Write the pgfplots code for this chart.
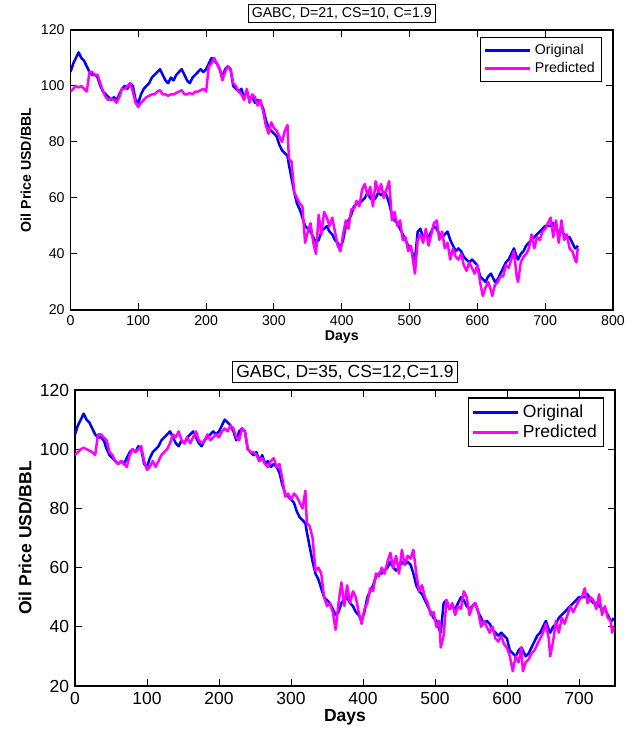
\documentclass[border=0pt]{standalone}
\usepackage{pgfplots}
\usepackage{pgfplotstable}
\pgfplotsset{compat=1.18}
\usepackage{fontspec}
\setmainfont{Liberation Sans}
\definecolor{mblue}{RGB}{0,0,255}
\definecolor{mmag}{RGB}{255,0,255}
\pgfplotstableread{
x o pa pb
0 105 98 98
4 108 99 99
8 110 100 100
12 112 99.5 100.5
16 110 100 100
20 109 99 99.5
24 107 98 99
28 105 105 98
32 104 105 105
36 104 104 105
40 103 104 104
44 100 101 103
48 98 98 99
52 97 96 98
56 96 95 96
60 95 95.5 95
64 96 95 96
68 95 94 95
72 97 96 94
76 99 99 98
80 100 99 100
84 99 100 99
88 101 101 100
92 100 98 101
96 95 94 96
100 94 92.5 93
104 97 94 94
108 99 95 96
112 100 96 94
116 101 96.5 96
120 103 97 98
124 104 97 99
128 105 98 100
132 106 98.5 102
136 104 97 105
140 102 97 104
144 101 96.5 106
148 103 97 103
152 102 97 102
156 104 97.5 104
160 105 98 102
164 106 98.5 104
168 104 97 106
172 102 97 103
176 101 97.5 102
180 103 97 103
184 104 98 105
188 105 98 103
192 106 98.5 104
196 105 99 105
200 106 98 104
204 108 107 106
208 110 108 107
212 109 110 106
216 108 108 108
220 106 106 107
224 103 102 104
228 106 105 103
232 107 107 107
236 106 106 106
240 100 101 100
244 99 100 99
248 98 98 99
252 99 97 98
256 96 95 96
260 98 99 97
264 95 94 95
268 96 97 94
272 94 96 96
276 95 93 97
280 94 95 94
284 92 91 95
288 88 86 90
292 85 83 84
296 84 87 85
300 83 85 83
304 82 84 85
308 79 82 84
312 77 80 82
316 76 84 80
320 75 86 86
322 72 74 75
326 67 73 74
330 62 62 70
334 58 60 59
338 56 58 60
342 53 57 58
346 50 44 50
350 49 48 47
354 48 51 48
358 46 44 45
362 44 40 39
366 45 54 48
370 48 47 55
374 49 55 47
378 50 53 54
382 48 50 48
386 47 53 52
390 45 48 50
394 44 43 45
398 42 41 41
402 45 47 46
406 50 52 48
410 52 49 53
414 54 56 52
418 57 56 58
422 58 59 57
426 58 57 60
430 59 63 58
434 60 65 62
438 62 61 65
442 60 64 60
446 59 57 64
450 60 66 58
454 62 62 66
458 61 65 61
462 62 60 64
466 61 63 63
470 58 66 66
474 54 52 58
478 52 55 52
482 51 50 54
486 49 52 50
490 47 45 48
494 45 46 44
498 43 41 45
502 42 43 40
506 39 36 42
508 38 33 33
512 48 45 37
516 49 47 49
520 46 44 46
524 47 49 48
528 46 43 44
532 48 47 47
536 50 51 46
540 49 52 52
544 47 45 50
548 46 48 44
552 47 42 47
556 48 44 48
560 45 38 45
564 43 42 40
568 41 39 42
572 42 38 40
576 41 40 38
580 39 36 40
584 38 34 36
588 37 37 35
592 38 35 37
596 37 33 34
600 36 36 33
604 32 30 30
608 31 25 25
612 30 28 30
616 32 30 28
620 33 27 33
622 32 25 25
626 30 29 28
630 31 30 29
634 33 32 31
638 35 32 32
642 37 36 34
646 38 35 36
650 40 38 38
654 42 41 41
658 39 32 36
660 38 30 30
664 40 37 35
668 41 39 42
672 43 40 38
676 44 42 43
680 45 47 41
684 46 42 44
688 47 46 47
692 48 45 45
696 49 48 47
700 50 49 49
704 50 51 50
708 50 53 53
712 51 46 48
716 49 52 50
720 48 44 49
724 48 52 46
728 47 45 51
732 46 47 44
736 46 42 47
740 44 41 43
744 42 38 42
746 42 37 38
748 43 42 40
}\oil
\pgfplotsset{
  mstyle/.style={
    scale only axis,
    axis line style={black, line width=0.8pt},
    tick align=inside,
    major tick length=4pt,
    tick style={black, line width=0.6pt},
    ymin=20, ymax=120,
    ytick={20,40,...,120},
    /pgf/number format/assume math mode=true,
    /pgf/number format/set thousands separator={},
    xlabel={\bfseries Days},
    ylabel={\bfseries Oil Price USD/BBL},
    legend cell align=left,
    legend style={draw=black, line width=0.8pt, at={(0.98,0.975)}, anchor=north east, inner sep=2pt, row sep=-1pt},
    legend image code/.code={\draw[#1, line width=1.6pt] (0cm,0cm) -- (0.95cm,0cm);},
    title style={draw=black, line width=0.6pt, fill=white, inner sep=2pt, yshift=-2pt},
  },
}
\begin{document}
\begin{tikzpicture}
\useasboundingbox (0,0) rectangle (381.6pt,-438pt);
\begin{axis}[mstyle,
  at={(42.3pt,-186pt)}, anchor=south west,
  width=325.5pt, height=168pt,
  xmin=0, xmax=800, xtick={0,100,...,800},
  tick label style={font=\fontsize{8.5}{10}\selectfont},
  label style={font=\fontsize{8.5}{10}\selectfont},
  xlabel style={yshift=4pt},
  ylabel style={yshift=-1pt},
  title style={font=\fontsize{8.5}{10}\selectfont},
  title={GABC, D=21, CS=10, C=1.9},
  legend style={font=\fontsize{8.5}{10}\selectfont},
]
\addplot[mblue, line width=1.5pt, line join=round] table[x=x, y=o] {\oil};
\addlegendentry{Original}
\addplot[mmag, line width=1.5pt, line join=round] table[x=x, y=pa] {\oil};
\addlegendentry{Predicted}
\end{axis}
\begin{axis}[mstyle,
  at={(45pt,-411.6pt)}, anchor=south west,
  width=324pt, height=177.6pt,
  xmin=0, xmax=750, xtick={0,100,...,700},
  tick label style={font=\fontsize{10.5}{12}\selectfont},
  label style={font=\fontsize{10.5}{12}\selectfont},
  xlabel style={yshift=4pt},
  ylabel style={yshift=-2pt},
  title style={font=\fontsize{10.5}{12}\selectfont},
  title={GABC, D=35, CS=12,C=1.9},
  legend style={font=\fontsize{10.5}{12}\selectfont},
]
\addplot[mblue, line width=1.5pt, line join=round] table[x=x, y=o] {\oil};
\addlegendentry{Original}
\addplot[mmag, line width=1.5pt, line join=round] table[x=x, y=pb] {\oil};
\addlegendentry{Predicted}
\end{axis}
\end{tikzpicture}
\end{document}
